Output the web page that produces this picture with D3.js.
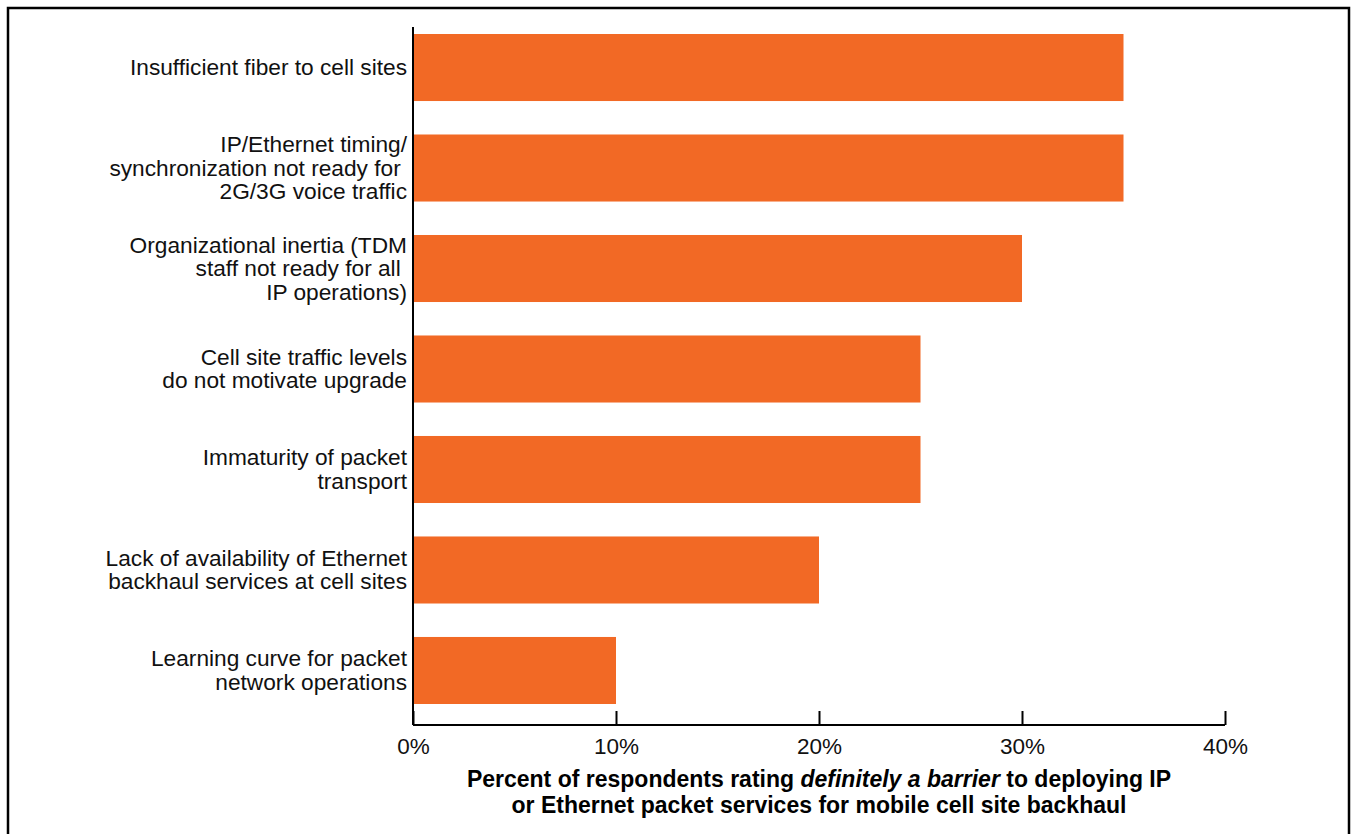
<!DOCTYPE html>
<html>
<head>
<meta charset="utf-8">
<script src="https://cdn.jsdelivr.net/npm/d3@7"></script>
<style>
  body { margin: 0; background: #fff; }
  svg { display: block; font-family: "Liberation Sans", Arial, sans-serif; }
</style>
</head>
<body>
<svg id="chart" width="1353" height="834"></svg>
<script>
// categories (each label split into its lines)
const categories = [
  ["Insufficient fiber to cell sites"],
  ["IP/Ethernet timing/", "synchronization not ready for ", "2G/3G voice traffic"],
  ["Organizational inertia (TDM", "staff not ready for all ", "IP operations)"],
  ["Cell site traffic levels", "do not motivate upgrade"],
  ["Immaturity of packet", "transport"],
  ["Lack of availability of Ethernet", "backhaul services at cell sites"],
  ["Learning curve for packet", "network operations"]
];
const values = [35, 35, 30, 25, 25, 20, 10];
const tickValues = [0, 10, 20, 30, 40];

const svg = d3.select("#chart");

// outer frame
svg.append("rect")
  .attr("x", 8).attr("y", 8)
  .attr("width", 1341).attr("height", 840)
  .attr("fill", "none").attr("stroke", "#000").attr("stroke-width", 2.5);

const x0 = 413, x1 = 1225, yTop = 27, yAxis = 725;

const x_scale = d3.scaleLinear().domain([0, 40]).range([x0, x1]);
const y_scale = d3.scaleBand()
  .domain(d3.range(categories.length))
  .range([17.25, 720.75])
  .paddingInner(0.333)
  .paddingOuter(0.1667);

// bars
svg.selectAll(".bar")
  .data(values)
  .join("rect")
  .attr("class", "bar")
  .attr("x", x_scale(0))
  .attr("y", (d, i) => y_scale(i))
  .attr("width", d => x_scale(d) - x_scale(0))
  .attr("height", y_scale.bandwidth())
  .attr("fill", "#f26925");

// y axis line
svg.append("line")
  .attr("x1", x0).attr("x2", x0)
  .attr("y1", yTop).attr("y2", yAxis)
  .attr("stroke", "#000").attr("stroke-width", 2);

// x axis
const xAxis = svg.append("g")
  .attr("transform", `translate(0, ${yAxis})`)
  .call(d3.axisTop(x_scale).tickValues(tickValues).tickSize(14).tickFormat(d => d + "%"));
xAxis.select(".domain").attr("stroke", "#000").attr("stroke-width", 2)
  .attr("d", `M${x0},0H${x1}`);
xAxis.selectAll(".tick line").attr("stroke", "#000").attr("stroke-width", 2);
xAxis.selectAll(".tick text")
  .attr("y", 29)
  .attr("dy", 0)
  .attr("font-size", 22.5)
  .attr("font-family", "Liberation Sans, Arial, sans-serif")
  .attr("fill", "#111");

// category labels
const lineH = 23.5;
categories.forEach((lines, i) => {
  const cy = y_scale(i) + y_scale.bandwidth() / 2;
  const t = svg.append("text")
    .attr("text-anchor", "end")
    .attr("font-size", 22.7)
    .attr("fill", "#111");
  lines.forEach((ln, j) => {
    t.append("tspan")
      .attr("x", 407)
      .attr("y", cy + (j - (lines.length - 1) / 2) * lineH + 7.5)
      .attr("xml:space", "preserve")
      .text(ln);
  });
});

// axis title
const title = svg.append("text")
  .attr("text-anchor", "middle")
  .attr("font-size", 23)
  .attr("font-weight", "bold")
  .attr("fill", "#000");
const l1 = title.append("tspan").attr("x", 819).attr("y", 787);
l1.append("tspan").text("Percent of respondents rating ");
l1.append("tspan").attr("font-style", "italic").text("definitely a barrier");
l1.append("tspan").text(" to deploying IP");
title.append("tspan").attr("x", 819).attr("y", 813)
  .text("or Ethernet packet services for mobile cell site backhaul");
</script>
</body>
</html>
